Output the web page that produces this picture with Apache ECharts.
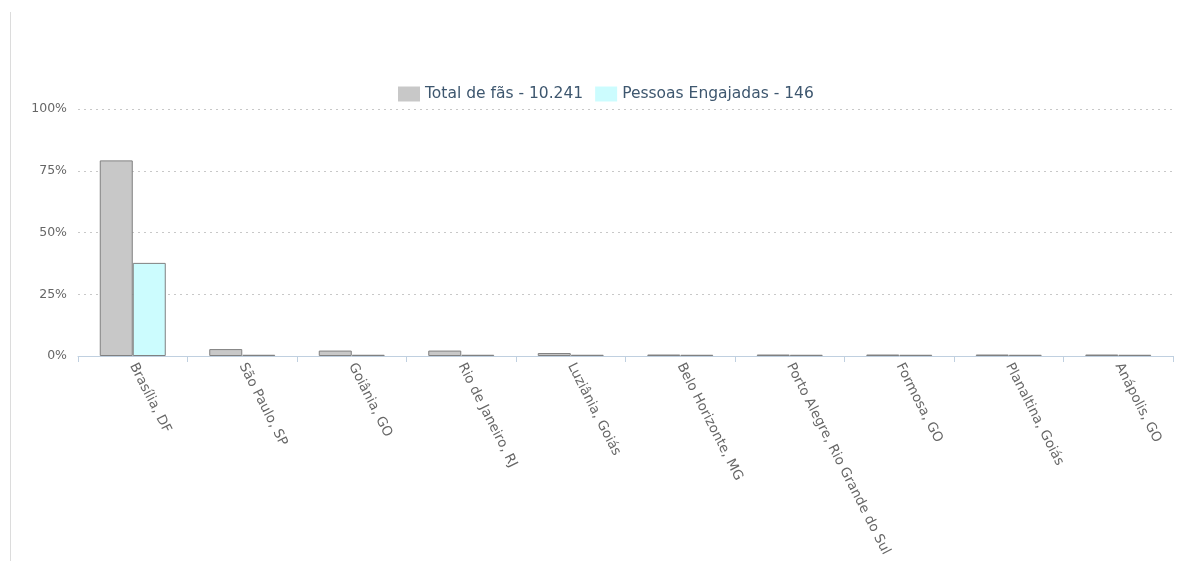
<!DOCTYPE html>
<html>
<head>
<meta charset="utf-8">
<script src="https://cdn.jsdelivr.net/npm/echarts@6/dist/echarts.min.js"></script>
<style>
html, body { margin: 0; padding: 0; background: #fff; }
#chart { width: 1186px; height: 561px; }
#edge { position: absolute; left: 10px; top: 12px; width: 1px; height: 549px; background: #dcdcdc; }
</style>
</head>
<body>
<div id="edge"></div>
<div id="chart"></div>
<script>
// cidades e percentuais
var cidades = ['Brasília, DF', 'São Paulo, SP', 'Goiânia, GO', 'Rio de Janeiro, RJ', 'Luziânia, Goiás',
    'Belo Horizonte, MG', 'Porto Alegre, Rio Grande do Sul', 'Formosa, GO', 'Planaltina, Goiás', 'Anápolis, GO']
var totalFas = [79.2, 2.8, 2.2, 2.2, 1.2, 0.6, 0.6, 0.6, 0.6, 0.6]
var engajadas = [37.7, 0.5, 0.5, 0.5, 0.5, 0.5, 0.5, 0.5, 0.5, 0.5]
var nomeTotal = 'Total de fãs - 10.241'
var nomeEngajadas = 'Pessoas Engajadas - 146'
var yTicks = [0, 25, 50, 75, 100]

var fonte = '"DejaVu Sans", Verdana, sans-serif'
var chart = echarts.init(document.getElementById('chart'))

chart.setOption({
    animation: false,
    textStyle: { fontFamily: fonte },
    legend: {
        left: 393,
        top: 81,
        itemWidth: 22,
        itemHeight: 15,
        itemGap: 12,
        icon: 'rect',
        itemStyle: { borderWidth: 0 },
        textStyle: { color: '#3e576f', fontSize: 15.5, fontFamily: fonte },
        data: [nomeTotal, nomeEngajadas]
    },
    grid: {
        left: 78,
        right: 13,
        top: 109,
        bottom: 205
    },
    xAxis: {
        type: 'category',
        data: cidades,
        axisLine: { lineStyle: { color: '#c0d0e0', width: 1 } },
        axisTick: { show: true, length: 6, lineStyle: { color: '#c0d0e0' } },
        axisLabel: {
            rotate: -63,
            interval: 0,
            margin: 8,
            color: '#666',
            fontSize: 13.5,
            fontFamily: fonte
        }
    },
    yAxis: {
        type: 'value',
        min: yTicks[0],
        max: yTicks[yTicks.length - 1],
        interval: 25,
        axisLine: { show: false },
        axisTick: { show: false },
        axisLabel: {
            formatter: '{value}%',
            color: '#666',
            fontSize: 12.5,
            margin: 11,
            fontFamily: fonte
        },
        splitLine: {
            lineStyle: { color: '#c8c8c8', type: [2, 4], width: 1 }
        }
    },
    series: [
        {
            name: nomeTotal,
            type: 'bar',
            data: totalFas,
            barWidth: 33,
            barGap: '0%',
            itemStyle: { color: '#c8c8c8', borderColor: '#808080', borderWidth: 1 }
        },
        {
            name: nomeEngajadas,
            type: 'bar',
            data: engajadas,
            barWidth: 33,
            itemStyle: { color: '#ccfcfe', borderColor: '#808080', borderWidth: 1 }
        }
    ]
})
</script>
</body>
</html>
